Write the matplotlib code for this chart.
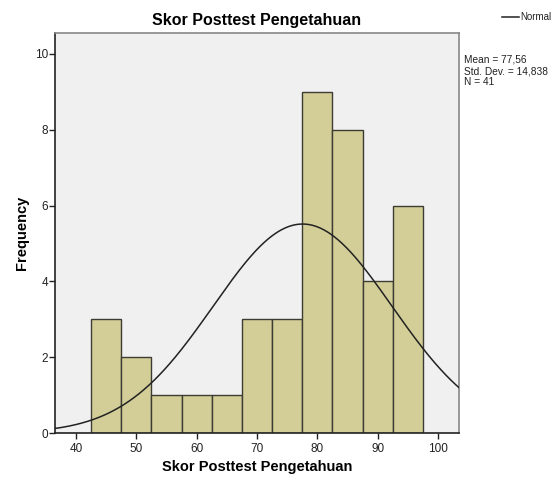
import numpy as np
import matplotlib
matplotlib.use("Agg")
import matplotlib.pyplot as plt

plt.rcParams['font.family'] = ['Liberation Sans', 'DejaVu Sans']

bin_centers = [45, 50, 55, 60, 65, 70, 75, 80, 85, 90, 95]
frequencies = [3, 2, 1, 1, 1, 3, 3, 9, 8, 4, 6]
bin_width = 5
mean_val = 77.56
std_val = 14.838
n_val = 41
x_ticks = [40, 50, 60, 70, 80, 90, 100]
y_ticks = [0, 2, 4, 6, 8, 10]

fig = plt.figure(figsize=(5.57, 4.8), dpi=100)
ax = fig.add_axes([55/557, 47/480, (459-55)/557, (433-33)/480])
ax.set_facecolor("#F0F0F0")

ax.bar(bin_centers, frequencies, width=bin_width, color="#D3CE98",
       edgecolor="#3C3C32", linewidth=1.0, zorder=2)

xs = np.linspace(36.5, 103.5, 400)
ys = n_val * bin_width * np.exp(-0.5 * ((xs - mean_val) / std_val) ** 2) / (std_val * np.sqrt(2 * np.pi))
ax.plot(xs, ys, color="#222222", linewidth=1.1, zorder=3)

ax.set_xlim(36.5, 103.5)
ax.set_ylim(0, 10.55)
ax.set_xticks(x_ticks)
ax.set_yticks(y_ticks)
ax.tick_params(axis="both", labelsize=8.5, color="#222222", length=4, width=1, labelcolor="#222222")
ax.tick_params(axis="x", pad=3)
ax.tick_params(axis="y", pad=1)

for side in ["top", "right"]:
    ax.spines[side].set_color("#888888")
    ax.spines[side].set_linewidth(1.2)
for side in ["left", "bottom"]:
    ax.spines[side].set_color("#222222")
    ax.spines[side].set_linewidth(1.2)

ax.set_xlabel("Skor Posttest Pengetahuan", fontsize=10.5, fontweight="bold", labelpad=4)
ax.set_ylabel("Frequency", fontsize=10.5, fontweight="bold", labelpad=4)
fig.text(0.5 * (55 + 459) / 557, 1 - 20/480, "Skor Posttest Pengetahuan", ha="center", va="center",
         fontsize=11.5, fontweight="bold")

# Legend
fig.add_artist(plt.Line2D([502/557, 519/557], [1 - 17/480, 1 - 17/480], color="#222222", linewidth=1.1))
fig.text(520/557, 1 - 17/480, "Normal", fontsize=7, va="center", ha="left", color="#222222")

fig.text(464/557, 1 - 55/480, "Mean = 77,56\nStd. Dev. = 14,838\nN = 41", fontsize=7.3,
         va="top", ha="left", color="#222222", linespacing=1.15)

fig.savefig("out.png", dpi=100)
